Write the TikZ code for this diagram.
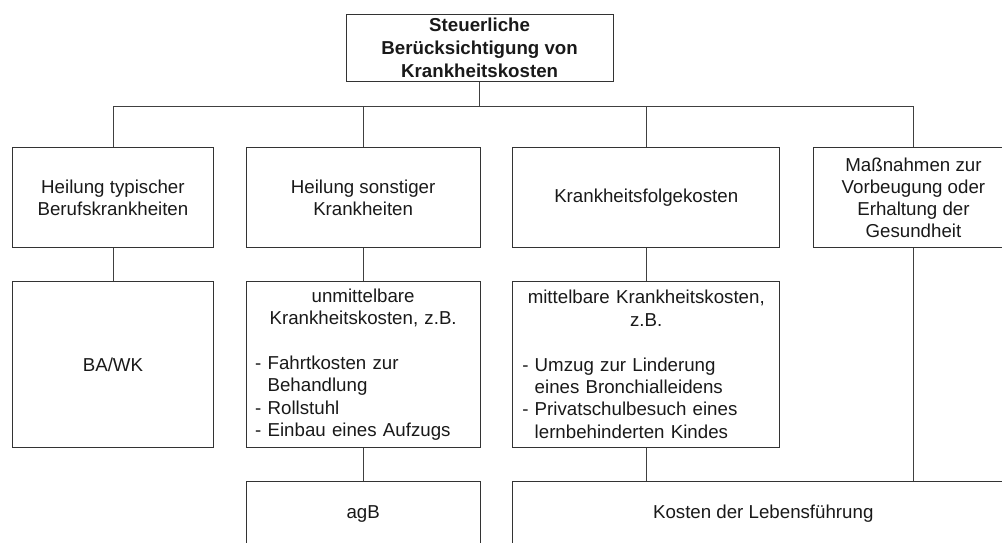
\documentclass[tikz,border=0pt]{standalone}
\usepackage{fontspec}
\setmainfont{Liberation Sans}
\begin{document}
\begin{tikzpicture}[x=1pt,y=-1pt,
  box/.style={draw=black!80, line width=0.9pt, inner sep=0pt, anchor=north west,
    text=black!90, font=\fontsize{18.7}{22.2}\selectfont},
  link/.style={draw=black!75, line width=0.9pt}]
\useasboundingbox (0,0) rectangle (1002,542);
\clip (0,0) rectangle (1002,542);
\node[box, align=center, minimum width=267, minimum height=66.7,
  font=\bfseries\fontsize{18.7}{22.7}\selectfont] (top) at (345.7,14)
  {Steuerliche\\Berücksichtigung von\\Krankheitskosten};
% level 1
\node[box, align=center, minimum width=200.4, minimum height=100] (h1) at (12.3,147.3)
  {Heilung typischer\\Berufskrankheiten};
\node[box, align=center, minimum width=234, minimum height=100] (h2) at (245.7,147.3)
  {Heilung sonstiger\\Krankheiten};
\node[box, align=center, minimum width=267, minimum height=100] (h3) at (512.3,147.3)
  {Krankheitsfolgekosten};
\node[box, align=center, minimum width=200.6, minimum height=100] (h4) at (812.7,147.3)
  {Maßnahmen zur\\Vorbeugung oder\\Erhaltung der\\Gesundheit};
% level 2
\node[box, align=center, minimum width=200.4, minimum height=166.6] (l1) at (12.3,280.7)
  {BA/WK};
\node[box, minimum width=234, minimum height=166.6, text width=216,
  font=\fontsize{18.7}{22.4}\selectfont] (l2) at (245.7,280.7)
  {{\centering unmittelbare\\Krankheitskosten, z.B.\par}
   \vspace{22.4pt}
   {\raggedright - Fahrtkosten zur\\\hphantom{-}\ Behandlung\\- Rollstuhl\\- Einbau eines Aufzugs\par}};
\node[box, minimum width=267, minimum height=166.6, text width=248,
  font=\fontsize{18.7}{22.4}\selectfont] (l3) at (512.3,280.7)
  {{\centering mittelbare Krankheitskosten,\\z.B.\par}
   \vspace{22.4pt}
   {\raggedright - Umzug zur Linderung\\\hphantom{-}\ eines Bronchialleidens\\- Privatschulbesuch eines\\\hphantom{-}\ lernbehinderten Kindes\par}};
% level 3
\node[box, align=center, minimum width=234, minimum height=65.3] (agb) at (245.7,480.7)
  {agB};
\node[box, align=center, minimum width=501, minimum height=65.3] (kl) at (512.3,480.7)
  {Kosten der Lebensführung};
% connectors
\coordinate (bar) at (0,106);
\draw[link] (top.south) -- (top.south |- bar);
\draw[link] (h1.north) -- (h1.north |- bar) -- (h4.north |- bar) -- (h4.north);
\draw[link] (h2.north) -- (h2.north |- bar);
\draw[link] (h3.north) -- (h3.north |- bar);
\draw[link] (h1.south) -- (l1.north);
\draw[link] (h2.south) -- (l2.north);
\draw[link] (h3.south) -- (l3.north);
\draw[link] (l2.south) -- (agb.north);
\draw[link] (l3.south) -- (l3.south |- kl.north);
\draw[link] (h4.south) -- (h4.south |- kl.north);
\end{tikzpicture}
\end{document}
